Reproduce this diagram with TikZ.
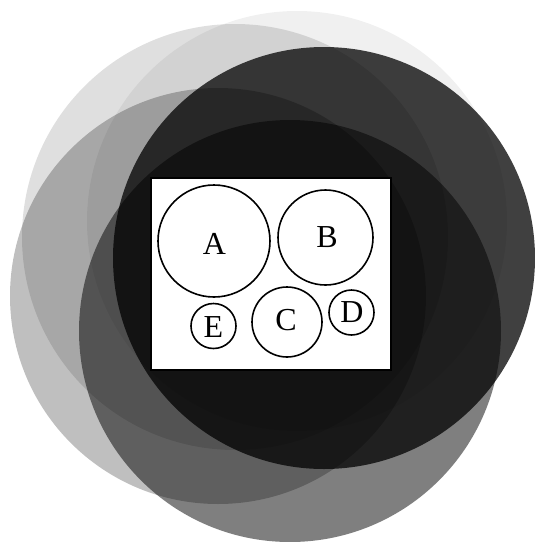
\documentclass[tikz,border=0pt]{standalone}
\usepackage{fontspec}
\setmainfont{Liberation Serif}
\begin{document}
\begin{tikzpicture}[x=1pt,y=-1pt,
  blob/.style={fill=black,fill opacity=#1,draw=none},
  frame/.style={draw=black,line width=2pt,fill=white},
  ring/.style={circle,draw=black,line width=1.6pt,inner sep=0pt,fill=white},
  letter/.style={inner sep=0pt,font=\fontsize{32}{38}\selectfont}]
\useasboundingbox (0,0) rectangle (535,542);
% large translucent discs
\fill[blob=0.06]   (297,221) circle [radius=210pt];
\fill[blob=0.125]  (235,237) circle [radius=213pt];
\fill[blob=0.25]   (218,296) circle [radius=208pt];
\fill[blob=0.75]   (324,258) circle [radius=211pt];
\fill[blob=0.5]    (290,331) circle [radius=211pt];
% white panel
\node[frame,minimum width=240pt,minimum height=192pt,inner sep=0pt,anchor=north west] (panel) at (149.7,177) {};
% circles
\node[ring,minimum size=112pt] (A) at (214,241) {};
\node[ring,minimum size=95pt]  (B) at (325.5,237.5) {};
\node[ring,minimum size=70pt]  (C) at (287,322) {};
\node[ring,minimum size=45pt]  (D) at (351.5,312.5) {};
\node[ring,minimum size=45pt]  (E) at (213.5,326) {};
% labels
\node[letter] (lA) at (214.5,243.5) {A};
\node[letter] (lB) at (327,237) {B};
\node[letter] (lC) at (286,320) {C};
\node[letter] (lD) at (352,312) {D};
\node[letter] (lE) at (213.5,327) {E};
\end{tikzpicture}
\end{document}
